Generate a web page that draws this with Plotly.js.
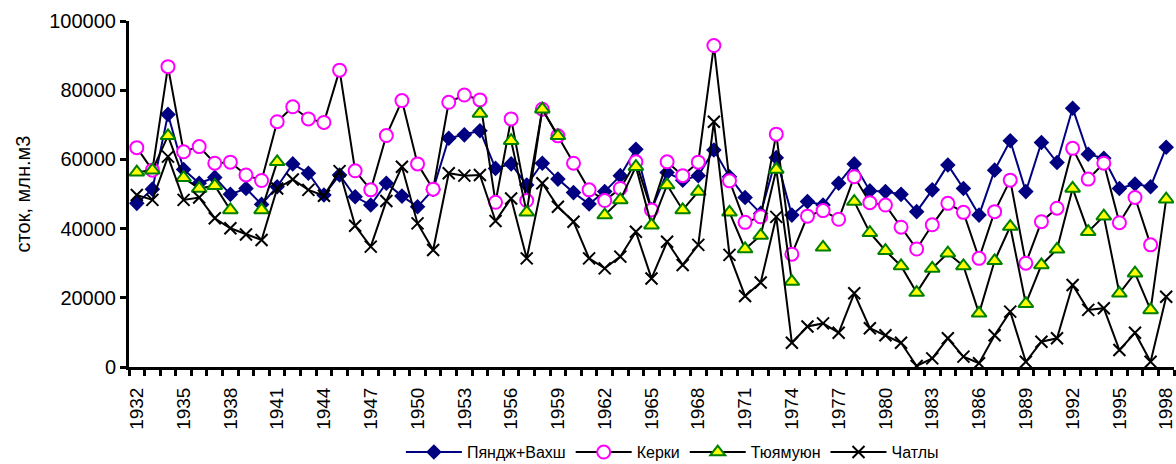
<!DOCTYPE html>
<html>
<head>
<meta charset="utf-8">
<script src="https://cdn.plot.ly/plotly-3.0.1.min.js"></script>
<style>html,body{margin:0;padding:0;background:#fff;}#chart{width:1176px;height:464px;}</style>
</head>
<body>
<div id="chart"></div>
<script>
const years = [];
for (let y = 1932; y <= 1998; y++) years.push(y);

const yearLabels = [1932,1935,1938,1941,1944,1947,1950,1953,1956,1959,1962,1965,1968,1971,1974,1977,1980,1983,1986,1989,1992,1995,1998];

const pyandzhVakhsh = [47300,51400,73000,57100,53100,54800,49900,51600,47000,52100,
  58700,56000,49700,55500,49200,46800,53100,49400,46300,51300,
  66100,67100,68300,57400,58700,52600,58900,54300,50400,47100,
  50700,55300,62900,45500,56200,54000,55300,62700,55000,49000,
  44400,60500,43900,47800,46800,53100,58700,50900,50700,49900,
  44900,51200,58400,51600,43900,56900,65400,50700,64900,59100,
  74800,61500,60300,51600,52900,52100,63500];

const kerki = [63400,56900,86800,62200,63700,58900,59200,55500,53900,70900,
  75200,71700,70700,85800,56700,51200,66900,77000,58700,51400,
  76500,78600,77200,47600,71700,48100,74500,66800,58900,51200,
  48100,51600,59300,45400,59300,55300,59200,92900,53800,41800,
  43400,67300,32600,43600,45200,42700,55000,47500,46800,40400,
  34100,41100,47300,44700,31400,44900,54000,30000,42000,45900,
  63200,54300,58900,41700,49000,35300,null];

const tyuyamuyun = [56300,56900,66800,54700,51600,52400,45400,null,45400,59300,
  null,null,null,null,null,null,null,null,null,null,
  null,null,73300,null,65400,44700,74500,66800,null,null,
  43900,48300,57900,41000,52600,45400,50700,null,44700,34100,
  38000,57100,24700,null,34600,null,47800,38800,33600,29200,
  21500,28500,32900,29200,15500,30700,40600,18300,29500,34000,
  51600,39100,43600,21300,27100,16500,48500];

const chatly = [49700,48300,60800,48300,49000,43000,40100,38300,36700,51600,
  54200,51200,49500,56600,40800,34800,48000,57900,41500,33800,
  56000,55300,55500,42200,48700,31400,53100,46300,42000,31400,
  28500,31900,39100,25600,36200,29500,35300,70900,32400,20500,
  24400,43400,7000,11700,12600,9900,21300,11200,9200,7000,
  300,2500,8300,3000,1100,9200,16000,1500,7300,8300,
  23700,16500,17000,4900,9900,1500,20300];

const seriesNames = ['Пяндж+Вахш','Керки','Тюямуюн','Чатлы'];

const FONT = 'Arial, "Liberation Sans", sans-serif';

const traces = [
  {x: years, y: pyandzhVakhsh, name: seriesNames[0], type: 'scatter', mode: 'lines+markers',
   line: {color: '#000080', width: 2},
   marker: {symbol: 'diamond', size: 12, color: '#000080', line: {width: 0}}},
  {x: years, y: kerki, name: seriesNames[1], type: 'scatter', mode: 'lines+markers',
   line: {color: '#000000', width: 2},
   marker: {symbol: 'circle', size: 13, color: '#ffffff', line: {color: '#ff00ff', width: 2}}},
  {x: years, y: tyuyamuyun, name: seriesNames[2], type: 'scatter', mode: 'lines+markers',
   connectgaps: false,
   line: {color: '#000000', width: 2},
   marker: {symbol: 'triangle-up', size: 13, color: '#ffff00', line: {color: '#008000', width: 2}}},
  {x: years, y: chatly, name: seriesNames[3], type: 'scatter', mode: 'lines+markers',
   line: {color: '#000000', width: 2},
   marker: {symbol: 'x-thin-open', size: 12, color: '#000000', line: {color: '#000000', width: 2}}}
];

const layout = {
  width: 1176, height: 464,
  margin: {l: 129, r: 2, t: 21, b: 97, pad: 0, autoexpand: false},
  paper_bgcolor: '#ffffff', plot_bgcolor: '#ffffff',
  font: {family: FONT, color: '#000000'},
  showlegend: true,
  legend: {orientation: 'h', x: 0.52, xanchor: 'center', y: -0.246, yanchor: 'middle',
    font: {family: FONT, size: 16, color: '#000000'}, itemwidth: 56, traceorder: 'normal',
    bgcolor: 'rgba(0,0,0,0)'},
  xaxis: {
    type: 'linear', range: [1931.5, 1998.5], fixedrange: true, automargin: false,
    tickmode: 'array', tickvals: yearLabels, ticktext: yearLabels.map(String),
    ticks: 'outside', ticklen: 10, tickcolor: 'rgba(0,0,0,0)', tickangle: -90,
    ticklabeloverflow: 'allow',
    tickfont: {family: FONT, size: 19, color: '#000000'},
    showline: true, linecolor: '#000000', linewidth: 3,
    showgrid: false, zeroline: false,
    minor: {tick0: 1931.5, dtick: 1, ticks: 'outside', ticklen: 6, tickwidth: 3, tickcolor: '#000000', showgrid: false}
  },
  yaxis: {
    range: [0, 100000], fixedrange: true, dtick: 20000, tick0: 0, tickformat: 'd', automargin: false,
    ticks: 'outside', ticklen: 6, tickwidth: 3, tickcolor: '#000000',
    tickfont: {family: FONT, size: 20, color: '#000000'},
    showline: true, linecolor: '#000000', linewidth: 3,
    showgrid: false, zeroline: false,
    title: {text: 'сток, млн.м3', font: {family: FONT, size: 20, color: '#000000'}, standoff: 14}
  }
};

Plotly.newPlot('chart', traces, layout, {displayModeBar: false, staticPlot: true});
</script>
</body>
</html>
